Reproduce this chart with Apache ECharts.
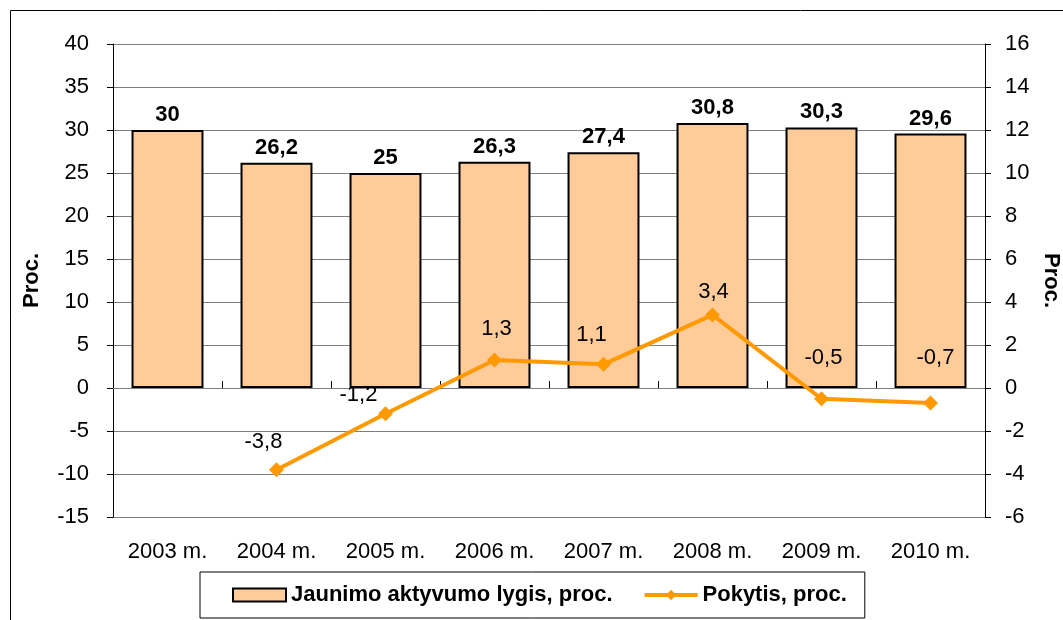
<!DOCTYPE html>
<html>
<head>
<meta charset="utf-8">
<script src="https://cdn.jsdelivr.net/npm/echarts@6/dist/echarts.min.js"></script>
<style>
  html, body { margin: 0; padding: 0; background: #fff; }
  #chart { width: 1063px; height: 620px; }
</style>
</head>
<body>
<div id="chart"></div>
<script>
// duomenys
const years = ["2003 m.", "2004 m.", "2005 m.", "2006 m.", "2007 m.", "2008 m.", "2009 m.", "2010 m."];
const activity = [30, 26.2, 25, 26.3, 27.4, 30.8, 30.3, 29.6];
const change = [null, -3.8, -1.2, 1.3, 1.1, 3.4, -0.5, -0.7];
// etikečių poslinkiai kaip originale
const changeLabelOffsets = [null, [-13, 2], [-27, 11], [2, -2], [-12, 0], [1, 7], [2, -11], [5, -16]];

const fmt = v => String(v).replace(".", ",");
const font = "Liberation Sans, Arial, sans-serif";

const chart = echarts.init(document.getElementById("chart"));

const option = {
  backgroundColor: "#fff",
  animation: false,
  textStyle: { fontFamily: font },
  graphic: [{
    type: "rect",
    shape: { x: 10.5, y: 10.5, width: 1200, height: 800 },
    style: { fill: "none", stroke: "#000", lineWidth: 1 },
    silent: true,
  }],
  grid: { left: 113, right: 78, top: 44, bottom: 103, outerBoundsMode: "none" },
  legend: {
    left: 200,
    bottom: 2,
    padding: [12, 18, 12, 32],
    borderColor: "#000",
    borderWidth: 1,
    itemGap: 30,
    itemWidth: 53,
    itemHeight: 13,
    textStyle: { fontFamily: font, fontSize: 22, fontWeight: "bold", color: "#000" },
    data: [
      { name: "Jaunimo aktyvumo lygis, proc.", icon: "rect" },
      { name: "Pokytis, proc.", lineStyle: { width: 4 } },
    ],
  },
  xAxis: [
    {
      type: "category",
      data: years,
      position: "bottom",
      axisLine: { show: false, onZero: false },
      axisTick: { show: false },
      axisLabel: { fontFamily: font, fontSize: 22, color: "#000", margin: 24 },
    },
    {
      type: "category",
      data: years,
      axisLine: { onZero: true, onZeroAxisIndex: 0, lineStyle: { color: "#808080", width: 1 } },
      axisTick: { show: true, length: 7, lineStyle: { color: "#000" } },
      axisLabel: { show: false },
    },
  ],
  yAxis: [
    {
      type: "value",
      min: -15, max: 40, interval: 5,
      name: "Proc.",
      nameLocation: "middle",
      nameGap: 70,
      nameTextStyle: { fontFamily: font, fontSize: 22, fontWeight: "bold", color: "#000" },
      axisLine: { show: true, lineStyle: { color: "#000" } },
      axisTick: { show: true, length: 6, lineStyle: { color: "#000" } },
      axisLabel: { fontFamily: font, fontSize: 22, color: "#000", margin: 24 },
      splitLine: { lineStyle: { color: "#808080", width: 1 } },
    },
    {
      type: "value",
      min: -6, max: 16, interval: 2,
      position: "right",
      name: "Proc.",
      nameLocation: "middle",
      nameGap: 49,
      nameRotate: -90,
      nameTextStyle: { fontFamily: font, fontSize: 22, fontWeight: "bold", color: "#000" },
      axisLine: { show: true, lineStyle: { color: "#000" } },
      axisTick: { show: true, length: 6, lineStyle: { color: "#000" } },
      axisLabel: { fontFamily: font, fontSize: 22, color: "#000", margin: 20 },
      splitLine: { show: false },
    },
  ],
  series: [
    {
      name: "Jaunimo aktyvumo lygis, proc.",
      type: "bar",
      data: activity,
      barWidth: "66%",
      itemStyle: { color: "#FFCC99", borderColor: "#000", borderWidth: 2 },
      label: {
        show: true,
        position: "top",
        distance: 4,
        fontFamily: font,
        fontSize: 22,
        fontWeight: "bold",
        color: "#000",
        formatter: p => fmt(p.value),
      },
      z: 2,
    },
    {
      name: "Pokytis, proc.",
      type: "line",
      yAxisIndex: 1,
      data: change.map((v, i) => v === null ? null : {
        value: v,
        label: { offset: changeLabelOffsets[i] },
      }),
      connectNulls: false,
      symbol: "diamond",
      symbolSize: 15,
      lineStyle: { color: "#FF9900", width: 4 },
      itemStyle: { color: "#FF9900" },
      label: {
        show: true,
        position: "top",
        distance: 11,
        fontFamily: font,
        fontSize: 22,
        color: "#000",
        formatter: p => fmt(p.value),
      },
      z: 5,
    },
  ],
};

chart.setOption(option);
</script>
</body>
</html>
